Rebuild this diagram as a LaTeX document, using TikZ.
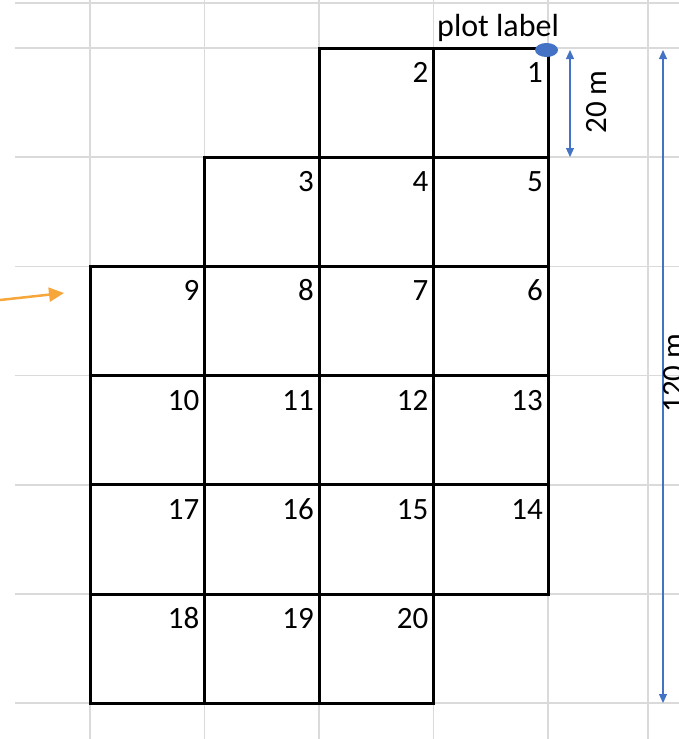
\documentclass[tikz,border=0pt]{standalone}
\usepackage{fontspec}
\setmainfont{Carlito}
\usetikzlibrary{arrows.meta,shapes.geometric}
\definecolor{gridgray}{RGB}{218,218,218}
\definecolor{dimblue}{RGB}{68,114,196}
\definecolor{arroworange}{RGB}{247,166,58}
\tikzset{
    sheetfont/.style={inner sep=0pt,font=\fontsize{31}{31}\selectfont},
    plotnum/.style={sheetfont,anchor=base east},
    dimline/.style={dimblue,line width=1.2pt,{Triangle[length=9pt,width=8pt]}-{Triangle[length=9pt,width=8pt]}},
}

\begin{document}
\begin{tikzpicture}[x=1pt,y=-1pt]
    \useasboundingbox (0,0) rectangle (679,739);
    \clip (0,0) rectangle (679,739);
    \foreach \y in {3,48,157.2,266.4,375.6,484.8,594,703.2} {
        \draw[gridgray,line width=1.5pt] (15,\y) -- (679,\y);
    }
    \foreach \x in {90,204.5,319,433.5,548,648} {
        \draw[gridgray,line width=1.5pt] (\x,0) -- (\x,739);
    }

    \foreach \c/\r/\n in {2/0/2,3/0/1,1/1/3,2/1/4,3/1/5,0/2/9,1/2/8,2/2/7,3/2/6,
                          0/3/10,1/3/11,2/3/12,3/3/13,0/4/17,1/4/16,2/4/15,3/4/14,
                          0/5/18,1/5/19,2/5/20} {
        \draw[line width=3pt] ({90+114.5*\c},{48+109.2*\r}) rectangle ++(114.5,109.2);
        \node[plotnum] (p\n) at ({90+114.5*(\c+1)-5},{48+109.2*\r+34.5}) {\n};
    }

    \node[sheetfont,anchor=base west,font=\fontsize{32}{32}\selectfont] (plotlabel) at (437,36.5) {plot label};
    \node[ellipse,fill=dimblue,minimum width=23pt,minimum height=14pt,inner sep=0pt] (corner) at (546.5,50) {};

    \coordinate (d20top) at (570,50);
    \coordinate (d20bot) at (570,157);
    \draw[dimline] (d20top) -- (d20bot);
    \node[sheetfont,rotate=90,anchor=base] (d20) at (606,102) {20 m};

    \coordinate (d120top) at (663,50);
    \coordinate (d120bot) at (663,703);
    \draw[dimline] (d120top) -- (d120bot);
    \node[sheetfont,rotate=90,anchor=base] (d120) at (683,373) {120 m};

    \coordinate (entry) at (0,300);
    \coordinate (entrytip) at (64,293);
    \draw[arroworange,line width=2.5pt,-{Triangle[length=15pt,width=14pt]}] (entry) -- (entrytip);
\end{tikzpicture}
\end{document}
